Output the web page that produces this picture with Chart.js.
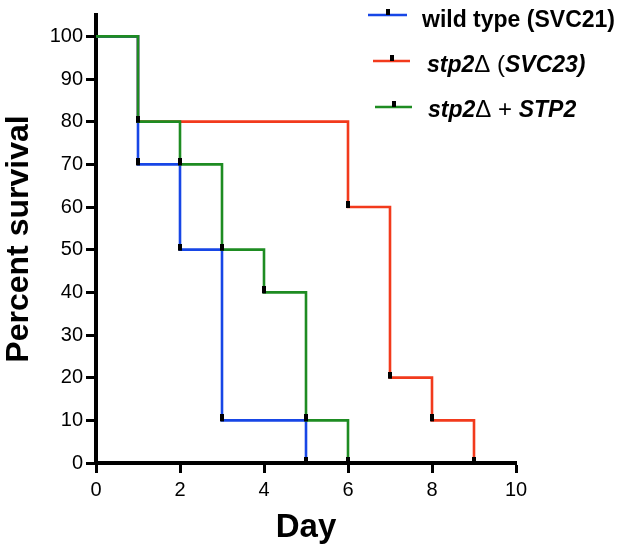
<!DOCTYPE html>
<html>
<head>
<meta charset="utf-8">
<script src="https://cdn.jsdelivr.net/npm/chart.js@4"></script>
<style>
html,body{margin:0;padding:0;background:#fff;}
#c{display:block;}
</style>
</head>
<body>
<canvas id="c" width="628" height="554"></canvas>
<script>
// ---- data ----
const wtDays   = [0, 1, 2, 3, 5];
const wtSurv   = [100, 70, 50, 10, 0];
const stpDays  = [0, 1, 6, 7, 8, 9];
const stpSurv  = [100, 80, 60, 20, 10, 0];
const compDays = [0, 1, 2, 3, 4, 5, 6];
const compSurv = [100, 80, 70, 50, 40, 10, 0];
const xTicks = [0, 2, 4, 6, 8, 10];
const yTicks = [0, 10, 20, 30, 40, 50, 60, 70, 80, 90, 100];
const seriesNames = ['wild type (SVC21)', 'stp2Δ (SVC23)', 'stp2Δ + STP2'];
const xTitle = 'Day';
const yTitle = 'Percent survival';

const BLUE = '#1746e6', RED = '#f23a1c', GREEN = '#1e8c22';
const FONT = '"Liberation Sans", Arial, Helvetica, sans-serif';

// censor-like tick marker
const mk = document.createElement('canvas');
mk.width = 4; mk.height = 12;
(function(){ const g = mk.getContext('2d'); g.fillStyle = '#000'; g.fillRect(0, 0, 4, 7); })();

function pts(xs, ys){ return xs.map((x, i) => ({x: x, y: ys[i]})); }
function ds(label, xs, ys, color, order){
  return {
    label: label, data: pts(xs, ys), borderColor: color, backgroundColor: color,
    borderWidth: 2.6, stepped: 'before', fill: false, order: order, clip: false,
    borderJoinStyle: 'miter', borderCapStyle: 'butt',
    pointStyle: mk, pointRadius: ctx => ctx.dataIndex === 0 ? 0 : 4, pointHoverRadius: 0
  };
}

// legend (segments: [text, font])
const BI = 'italic bold 23px ' + FONT, B = 'bold 23px ' + FONT, N = '24px ' + FONT;
const legendItems = [
  {color: BLUE,  lx: 368, rx: 407, ly: 15,  tx: 422, by: 27,
   segs: [[seriesNames[0], B]]},
  {color: RED,   lx: 373, rx: 410, ly: 61,  tx: 427, by: 72,
   segs: [['stp2', BI], ['Δ', N], [' (', N], ['SVC23)', BI]]},
  {color: GREEN, lx: 375, rx: 412, ly: 107, tx: 428, by: 117,
   segs: [['stp2', BI], ['Δ', N], [' + ', N], ['STP2', BI]]}
];
const legendPlugin = {
  id: 'customLegend',
  afterDraw(chart){
    const g = chart.ctx;
    g.save();
    legendItems.forEach(it => {
      g.strokeStyle = it.color; g.lineWidth = 2.6; g.lineCap = 'butt';
      g.beginPath(); g.moveTo(it.lx, it.ly); g.lineTo(it.rx, it.ly); g.stroke();
      g.fillStyle = '#000';
      g.fillRect(Math.round((it.lx + it.rx) / 2) - 2, it.ly - 6, 4, 6);
      let x = it.tx;
      g.textBaseline = 'alphabetic'; g.textAlign = 'left';
      it.segs.forEach(s => { g.font = s[1]; g.fillText(s[0], x, it.by); x += g.measureText(s[0]).width; });
    });
    g.restore();
  }
};

new Chart(document.getElementById('c'), {
  type: 'line',
  data: {
    datasets: [
      ds(seriesNames[2], compDays, compSurv, GREEN, 0),
      ds(seriesNames[0], wtDays, wtSurv, BLUE, 1),
      ds(seriesNames[1], stpDays, stpSurv, RED, 2)
    ]
  },
  options: {
    responsive: false, animation: false, events: [],
    layout: {padding: {top: 12, right: 112, left: 0, bottom: 0}},
    plugins: {legend: {display: false}, tooltip: {enabled: false}},
    scales: {
      x: {
        type: 'linear', min: 0, max: 10,
        afterBuildTicks: s => { s.ticks = xTicks.map(v => ({value: v})); },
        afterFit: s => { s.height = 91; },
        border: {display: true, width: 4, color: '#000'},
        grid: {drawOnChartArea: false, drawTicks: true, tickLength: 10, tickWidth: 3, tickColor: '#000'},
        ticks: {color: '#000', font: {family: FONT, size: 20}, padding: 5, maxRotation: 0},
        title: {display: true, text: xTitle, color: '#000', font: {family: FONT, size: 33, weight: 'bold'}, padding: {top: 0, bottom: 6}}
      },
      y: {
        type: 'linear', min: 0, max: 105,
        afterBuildTicks: s => { s.ticks = yTicks.map(v => ({value: v})); },
        afterFit: s => { s.width = 96; },
        border: {display: true, width: 4, color: '#000'},
        grid: {drawOnChartArea: false, drawTicks: true, tickLength: 10, tickWidth: 3, tickColor: '#000'},
        ticks: {color: '#000', font: {family: FONT, size: 20}, padding: 3},
        title: {display: true, text: yTitle, color: '#000', font: {family: FONT, size: 32, weight: 'bold'}, padding: {top: 0, bottom: 0}}
      }
    }
  },
  plugins: [legendPlugin]
});
</script>
</body>
</html>
